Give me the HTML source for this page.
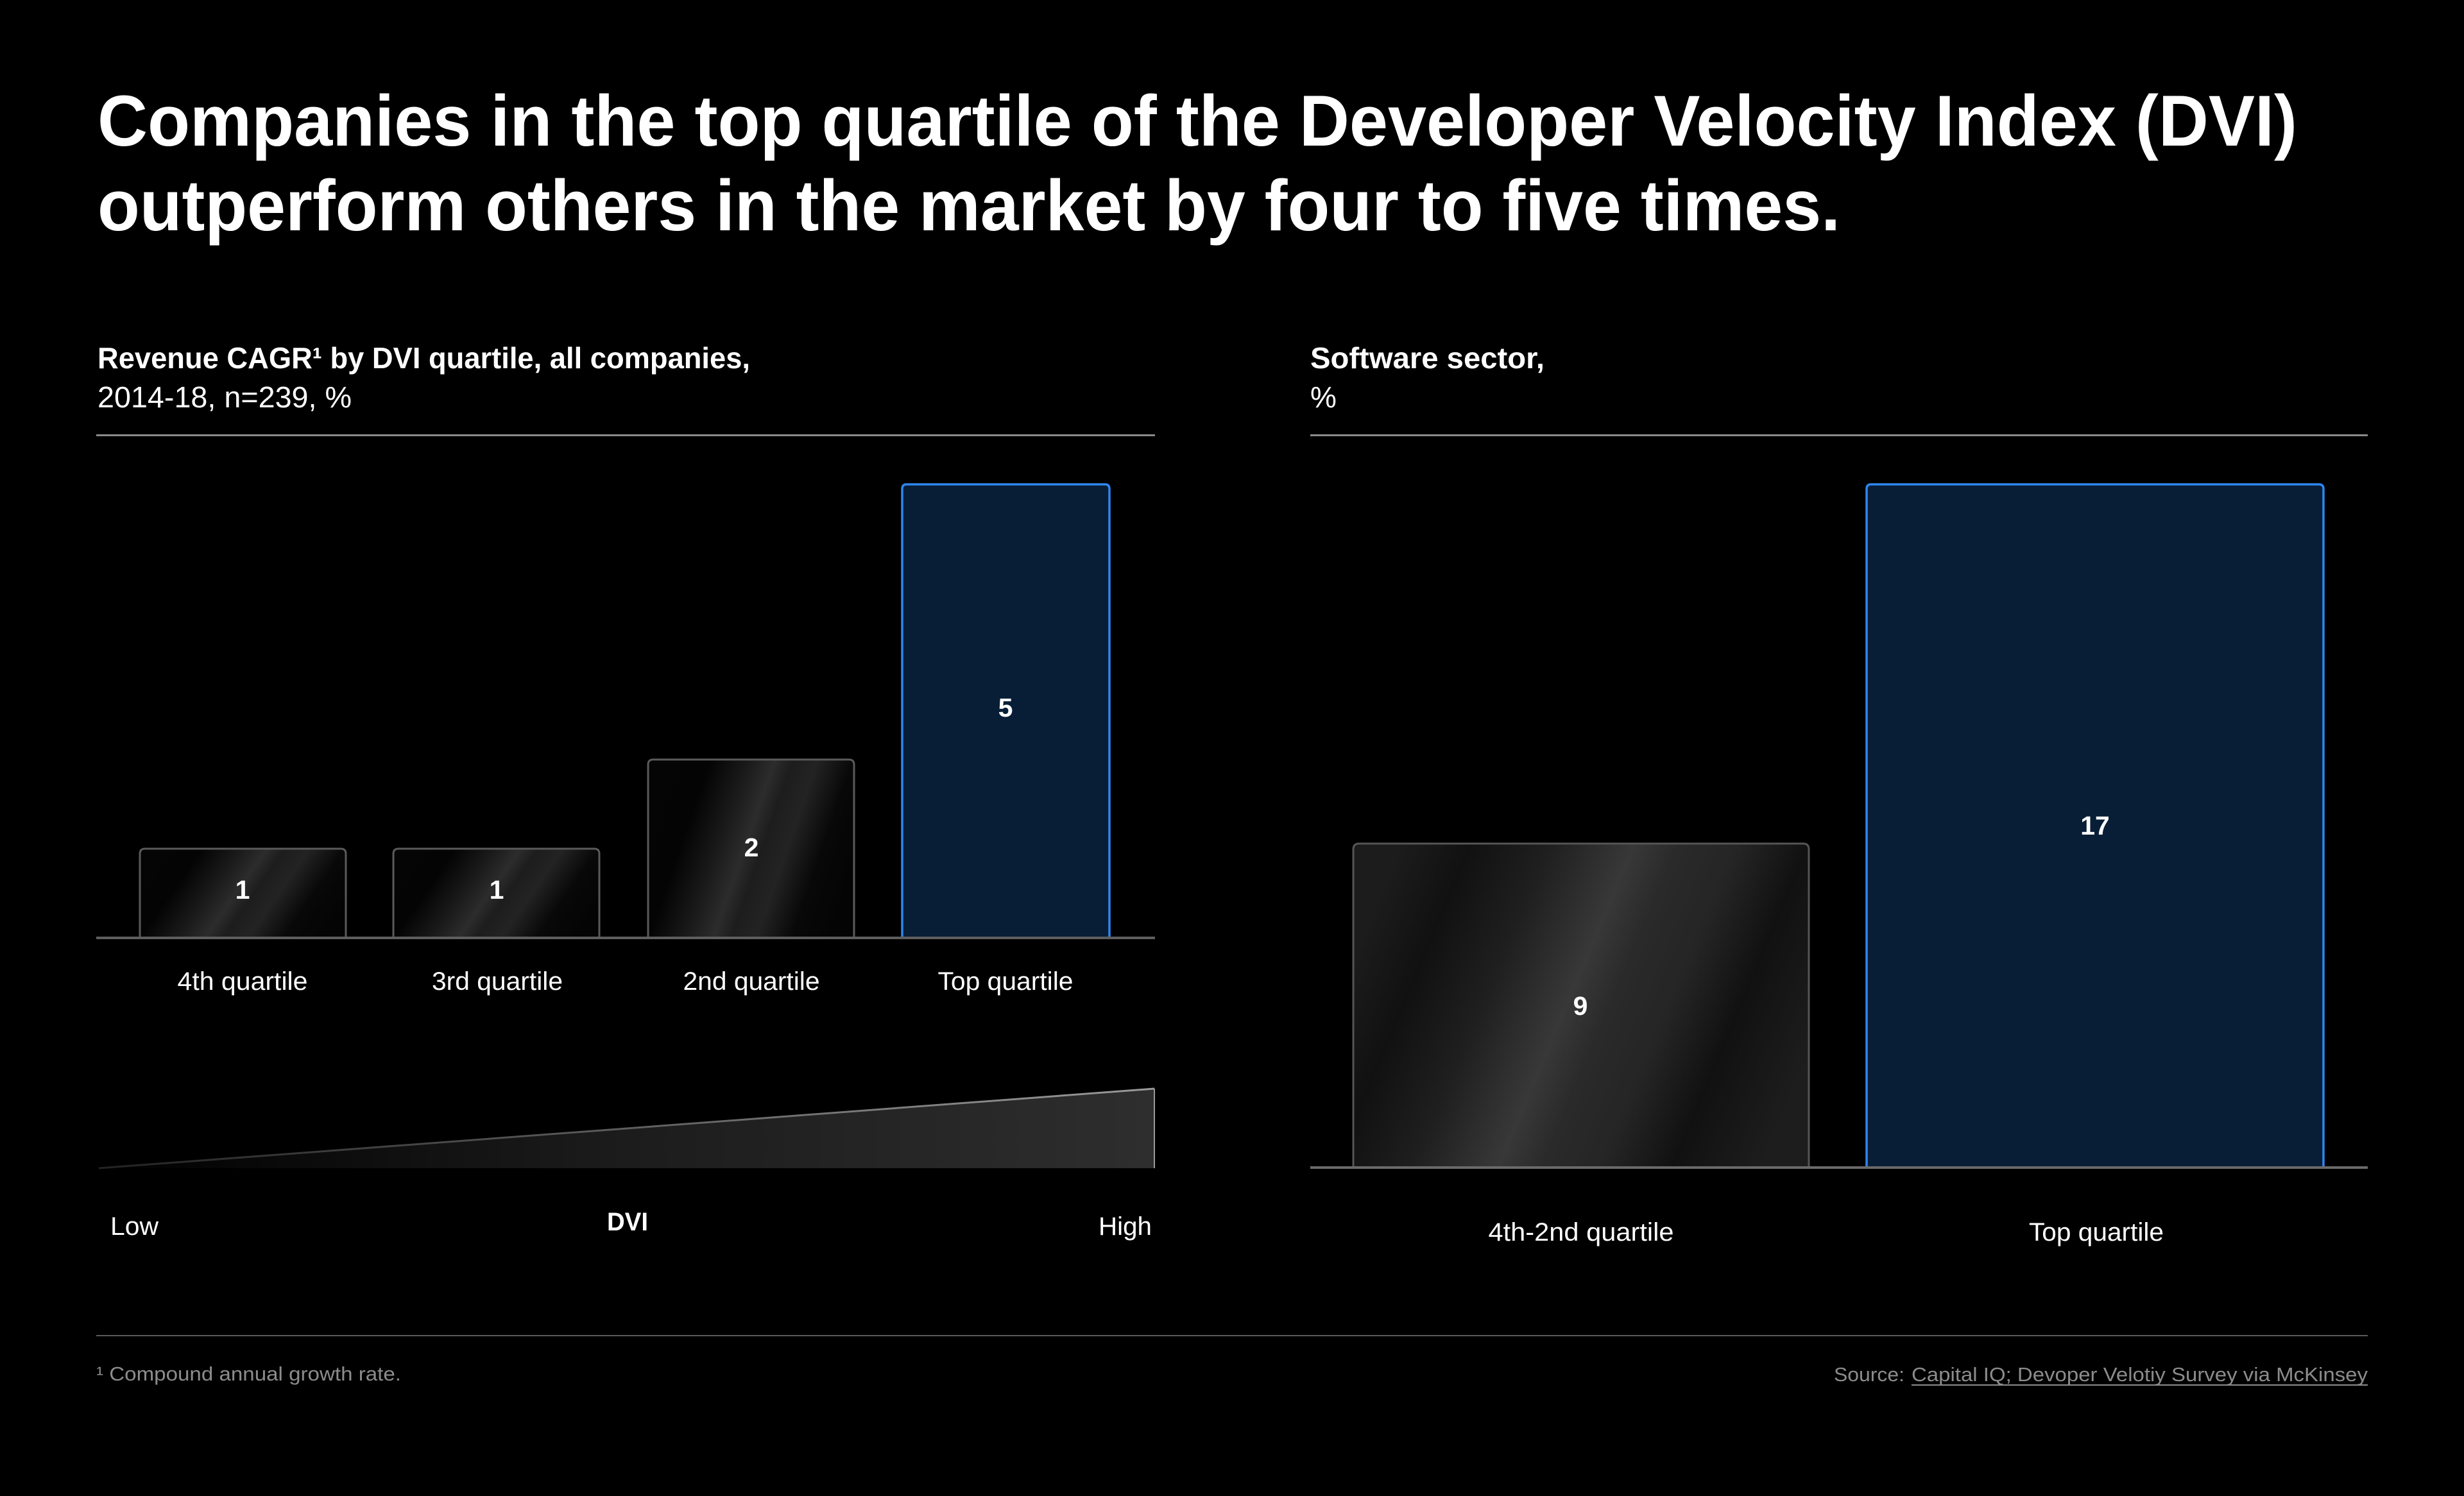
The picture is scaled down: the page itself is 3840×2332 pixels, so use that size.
<!DOCTYPE html>
<html>
<head>
<meta charset="utf-8">
<style>
html,body{margin:0;padding:0;background:#000;}
body{width:3840px;height:2332px;overflow:hidden;}
svg{display:block;}
text{font-family:"Liberation Sans",sans-serif;}
</style>
</head>
<body>
<svg width="3840" height="2332" viewBox="0 0 3840 2332" xmlns="http://www.w3.org/2000/svg">
<defs>
  <linearGradient id="sheenL" x1="0" y1="0.35" x2="1" y2="0.65">
    <stop offset="0" stop-color="#050505"/>
    <stop offset="0.18" stop-color="#040404"/>
    <stop offset="0.35" stop-color="#1a1a1a"/>
    <stop offset="0.47" stop-color="#2c2c2c"/>
    <stop offset="0.55" stop-color="#1d1d1d"/>
    <stop offset="0.66" stop-color="#232323"/>
    <stop offset="0.82" stop-color="#080808"/>
    <stop offset="1" stop-color="#040404"/>
  </linearGradient>
  <linearGradient id="sheenR" x1="0" y1="0.35" x2="1" y2="0.65">
    <stop offset="0" stop-color="#1c1c1c"/>
    <stop offset="0.14" stop-color="#111111"/>
    <stop offset="0.3" stop-color="#1f1f1f"/>
    <stop offset="0.47" stop-color="#383838"/>
    <stop offset="0.56" stop-color="#2a2a2a"/>
    <stop offset="0.68" stop-color="#252525"/>
    <stop offset="0.82" stop-color="#111111"/>
    <stop offset="1" stop-color="#1d1d1d"/>
  </linearGradient>
  <linearGradient id="tri" x1="0" y1="0" x2="1" y2="0">
    <stop offset="0" stop-color="#000"/>
    <stop offset="0.5" stop-color="#1c1c1c"/>
    <stop offset="1" stop-color="#2e2e2e"/>
  </linearGradient>
  <linearGradient id="triEdge" x1="0" y1="0" x2="1" y2="0">
    <stop offset="0" stop-color="#222"/>
    <stop offset="1" stop-color="#9a9a9a"/>
  </linearGradient>
</defs>

<rect width="3840" height="2332" fill="#000"/>

<!-- Title -->
<text x="152" y="227" font-size="112" font-weight="bold" fill="#fff" textLength="3428" lengthAdjust="spacingAndGlyphs">Companies in the top quartile of the Developer Velocity Index (DVI)</text>
<text x="152" y="359" font-size="112" font-weight="bold" fill="#fff" textLength="2716" lengthAdjust="spacingAndGlyphs">outperform others in the market by four to five times.</text>

<!-- Left subtitle -->
<text x="152" y="574" font-size="46" font-weight="bold" fill="#fff" textLength="1017" lengthAdjust="spacingAndGlyphs">Revenue CAGR¹ by DVI quartile, all companies,</text>
<text x="152" y="635" font-size="46" fill="#fff" textLength="396" lengthAdjust="spacingAndGlyphs">2014-18, n=239, %</text>
<rect x="150" y="677" width="1650" height="3" fill="#8a8a8a"/>

<!-- Right subtitle -->
<text x="2042" y="574" font-size="46" font-weight="bold" fill="#fff" textLength="365" lengthAdjust="spacingAndGlyphs">Software sector,</text>
<text x="2042" y="635" font-size="46" fill="#fff">%</text>
<rect x="2042" y="677" width="1648" height="3" fill="#8a8a8a"/>

<!-- Left bars -->
<path d="M218,1462 V1331 Q218,1323 226,1323 H531 Q539,1323 539,1331 V1462 Z" fill="url(#sheenL)" stroke="#5a5a5a" stroke-width="3"/>
<path d="M613,1462 V1331 Q613,1323 621,1323 H926 Q934,1323 934,1331 V1462 Z" fill="url(#sheenL)" stroke="#5a5a5a" stroke-width="3"/>
<path d="M1010,1462 V1192 Q1010,1184 1018,1184 H1323 Q1331,1184 1331,1192 V1462 Z" fill="url(#sheenL)" stroke="#5a5a5a" stroke-width="3"/>
<path d="M1406,1462 V762 Q1406,755 1413,755 H1722 Q1729,755 1729,762 V1462 Z" fill="#081e36" stroke="#2f86f0" stroke-width="3.5"/>

<rect x="150" y="1460" width="1650" height="4" fill="#5e5e5e"/>

<text x="378" y="1401" font-size="41" font-weight="bold" fill="#fff" text-anchor="middle">1</text>
<text x="774" y="1401" font-size="41" font-weight="bold" fill="#fff" text-anchor="middle">1</text>
<text x="1171" y="1335" font-size="41" font-weight="bold" fill="#fff" text-anchor="middle">2</text>
<text x="1567" y="1117" font-size="41" font-weight="bold" fill="#fff" text-anchor="middle">5</text>

<text x="378" y="1543" font-size="40" fill="#fff" text-anchor="middle" textLength="203" lengthAdjust="spacingAndGlyphs">4th quartile</text>
<text x="775" y="1543" font-size="40" fill="#fff" text-anchor="middle" textLength="204" lengthAdjust="spacingAndGlyphs">3rd quartile</text>
<text x="1171" y="1543" font-size="40" fill="#fff" text-anchor="middle" textLength="213" lengthAdjust="spacingAndGlyphs">2nd quartile</text>
<text x="1567" y="1543" font-size="40" fill="#fff" text-anchor="middle" textLength="211" lengthAdjust="spacingAndGlyphs">Top quartile</text>

<!-- DVI triangle -->
<polygon points="154,1821 1799,1697 1799,1821" fill="url(#tri)"/>
<line x1="154" y1="1821" x2="1799" y2="1697" stroke="url(#triEdge)" stroke-width="3"/>
<line x1="154" y1="1821" x2="1799" y2="1821" stroke="url(#triEdge)" stroke-width="3"/>
<line x1="1799" y1="1697" x2="1799" y2="1821" stroke="#9a9a9a" stroke-width="2"/>

<text x="172" y="1925" font-size="40" fill="#fff" textLength="75" lengthAdjust="spacingAndGlyphs">Low</text>
<text x="946" y="1918" font-size="40" font-weight="bold" fill="#fff" textLength="64" lengthAdjust="spacingAndGlyphs">DVI</text>
<text x="1795" y="1925" font-size="40" fill="#fff" text-anchor="end" textLength="83" lengthAdjust="spacingAndGlyphs">High</text>

<!-- Right bars -->
<path d="M2109,1820 V1324 Q2109,1315 2118,1315 H2810 Q2819,1315 2819,1324 V1820 Z" fill="url(#sheenR)" stroke="#555" stroke-width="3"/>
<path d="M2909,1820 V762 Q2909,755 2916,755 H3614 Q3621,755 3621,762 V1820 Z" fill="#081e36" stroke="#2f86f0" stroke-width="3.5"/>
<rect x="2042" y="1818" width="1648" height="4" fill="#6a6a6a"/>

<text x="2463" y="1582" font-size="41" font-weight="bold" fill="#fff" text-anchor="middle">9</text>
<text x="3265" y="1301" font-size="41" font-weight="bold" fill="#fff" text-anchor="middle">17</text>

<text x="2464" y="1934" font-size="40" fill="#fff" text-anchor="middle" textLength="289" lengthAdjust="spacingAndGlyphs">4th-2nd quartile</text>
<text x="3267" y="1934" font-size="40" fill="#fff" text-anchor="middle" textLength="210" lengthAdjust="spacingAndGlyphs">Top quartile</text>

<!-- Footer -->
<rect x="150" y="2081" width="3540" height="2" fill="#5a5a5a"/>
<text x="150" y="2152" font-size="31" fill="#8c8c8c" textLength="475" lengthAdjust="spacingAndGlyphs">¹ Compound annual growth rate.</text>
<text x="2858" y="2153" font-size="31" fill="#8c8c8c" textLength="110" lengthAdjust="spacingAndGlyphs">Source:</text>
<text x="2979" y="2153" font-size="31" fill="#8c8c8c" textLength="711" lengthAdjust="spacingAndGlyphs">Capital IQ; Devoper Velotiy Survey via McKinsey</text>
<rect x="2979" y="2158" width="711" height="2" fill="#8c8c8c"/>
</svg>
</body>
</html>
